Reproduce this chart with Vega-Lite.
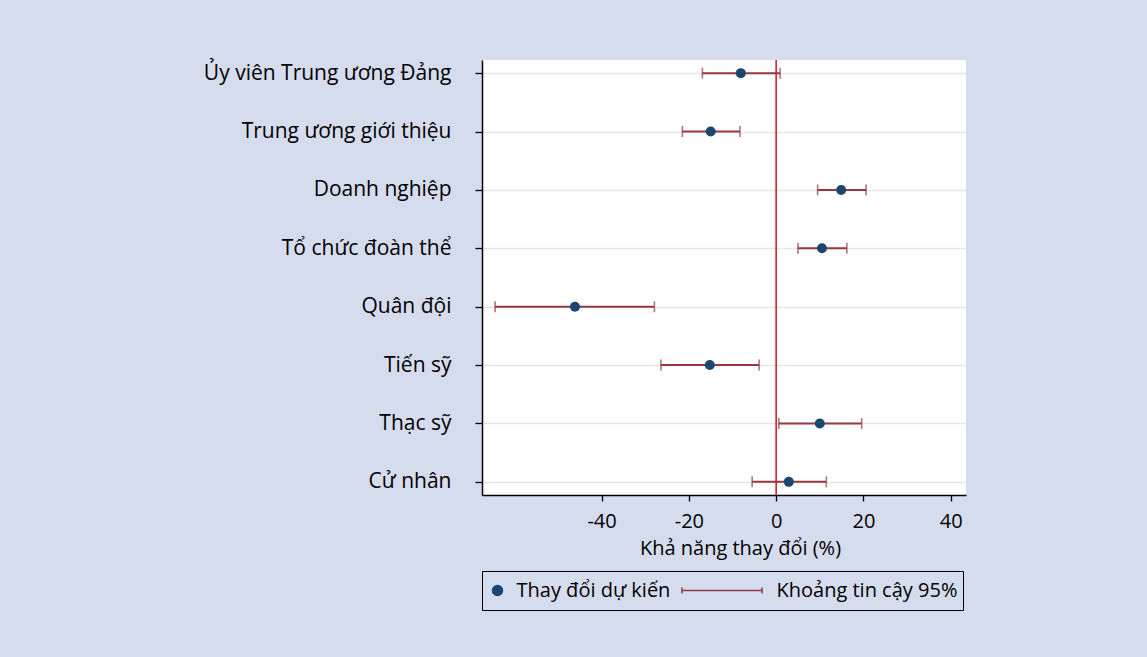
{
  "$schema": "https://vega.github.io/schema/vega-lite/v6.json",
  "autosize": {"type": "none"},
  "width": 484,
  "height": 435,
  "padding": {"left": 482, "top": 60, "right": 181, "bottom": 162},
  "background": "#d5dcee",
  "config": {
    "font": "Open Sans",
    "view": {"fill": "white", "stroke": null},
    "axis": {"labelFont": "Open Sans", "titleFont": "Open Sans", "labelColor": "black", "titleColor": "black", "labelFontSize": 20, "titleFontSize": 20, "titleFontWeight": "normal", "domainColor": "black", "tickColor": "black", "domainWidth": 1.5, "tickWidth": 1.3, "labelLimit": 400}
  },
  "data": {
    "values": [
      {"label": "Ủy viên Trung ương Đảng", "est": -8.1, "lo": -16.9, "hi": 0.9, "series": "Thay đổi dự kiến"},
      {"label": "Trung ương giới thiệu", "est": -15.0, "lo": -21.5, "hi": -8.3, "series": "Thay đổi dự kiến"},
      {"label": "Doanh nghiệp", "est": 14.9, "lo": 9.5, "hi": 20.6, "series": "Thay đổi dự kiến"},
      {"label": "Tổ chức đoàn thể", "est": 10.5, "lo": 5.0, "hi": 16.2, "series": "Thay đổi dự kiến"},
      {"label": "Quân đội", "est": -46.1, "lo": -64.4, "hi": -27.9, "series": "Thay đổi dự kiến"},
      {"label": "Tiến sỹ", "est": -15.2, "lo": -26.4, "hi": -3.9, "series": "Thay đổi dự kiến"},
      {"label": "Thạc sỹ", "est": 10.0, "lo": 0.6, "hi": 19.6, "series": "Thay đổi dự kiến"},
      {"label": "Cử nhân", "est": 2.9, "lo": -5.5, "hi": 11.5, "series": "Thay đổi dự kiến"}
    ]
  },
  "encoding": {
    "y": {
      "field": "label", "type": "nominal", "sort": null,
      "scale": {"type": "point", "padding": 0.225},
      "axis": {"title": null, "grid": true, "gridColor": "#e6e6e6", "gridWidth": 1.5, "tickSize": 7, "labelPadding": 24, "labelFontSize": 21}
    }
  },
  "layer": [
    {
      "data": {"values": [{"zero": 0}]},
      "mark": {"type": "rule", "color": "#d2202f", "strokeWidth": 1.6},
      "encoding": {
        "x": {"field": "zero", "type": "quantitative"},
        "y": null
      }
    },
    {
      "mark": {"type": "rule", "color": "#953842", "strokeWidth": 2},
      "encoding": {
        "x": {
          "field": "lo", "type": "quantitative",
          "scale": {"domain": [-67.4, 43.5], "nice": false, "zero": false},
          "axis": {"values": [-40, -20, 0, 20, 40], "labelExpr": "replace(datum.label, '−', '-')", "grid": false, "tickSize": 6, "labelPadding": 10, "title": "Khả năng thay đổi (%)", "titlePadding": 7, "titleX": 258}
        },
        "x2": {"field": "hi"}
      }
    },
    {
      "mark": {"type": "tick", "color": "#953842", "thickness": 1.6, "size": 11},
      "encoding": {"x": {"field": "lo", "type": "quantitative"}}
    },
    {
      "mark": {"type": "tick", "color": "#953842", "thickness": 1.6, "size": 11},
      "encoding": {"x": {"field": "hi", "type": "quantitative"}}
    },
    {
      "mark": {"type": "point", "filled": true, "opacity": 1},
      "encoding": {
        "x": {"field": "est", "type": "quantitative"},
        "color": {
          "field": "series", "type": "nominal",
          "scale": {"domain": ["Thay đổi dự kiến", "Khoảng tin cậy 95%"], "range": ["#1a476f", "#953842"]},
          "legend": {
            "title": null, "orient": "none", "legendX": 0, "legendY": 511, "direction": "horizontal",
            "strokeColor": "black", "fillColor": "#d5dcee", "padding": 5.5, "clipHeight": 28,
            "columnPadding": 6, "labelOffset": 9, "labelFont": "Open Sans", "labelFontSize": 20, "labelColor": "black", "labelLimit": 400,
            "symbolStrokeWidth": 1.5, "symbolOpacity": 1,
            "encode": {"symbols": {"update": {"stroke": {"scale": "color", "field": "value"}, "strokeWidth": {"value": 1.5}}}}
          }
        },
        "shape": {
          "field": "series", "type": "nominal",
          "scale": {"domain": ["Thay đổi dự kiến", "Khoảng tin cậy 95%"], "range": ["circle", "M-0.9,0H0.9M-0.9,-0.07V0.07M0.9,-0.07V0.07"]}
        },
        "size": {
          "field": "series", "type": "ordinal",
          "scale": {"type": "point", "padding": 0, "domain": ["Thay đổi dự kiến", "Khoảng tin cậy 95%"], "range": [100, 7921]}
        }
      }
    }
  ]
}
